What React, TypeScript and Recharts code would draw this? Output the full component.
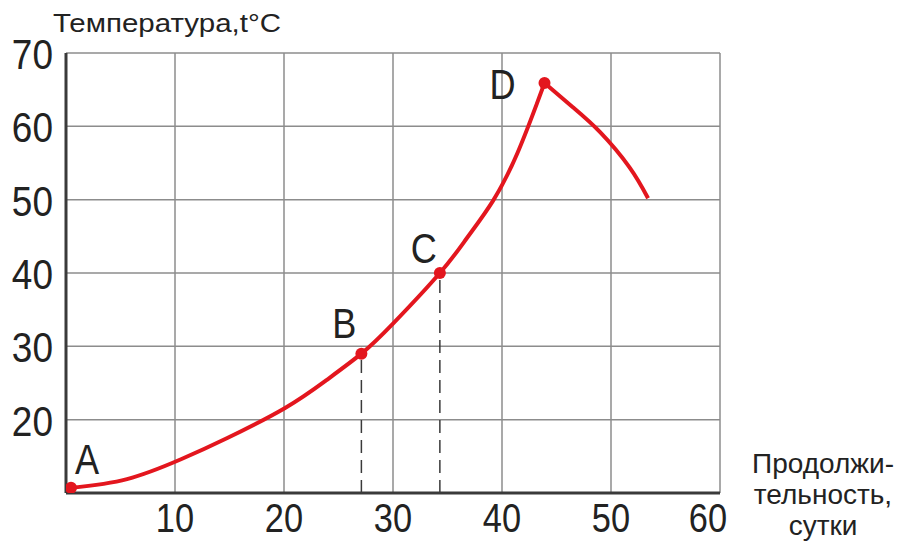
import { ComposedChart, Line, Scatter, XAxis, YAxis, CartesianGrid, ReferenceLine } from 'recharts'

// rising branch A -> D (days, °C)
const riseDays = [0.46, 5.6, 10.55, 14.8, 20.1, 23.9, 27.1, 30.0, 34.3, 36.8, 39.2, 41.4, 43.2, 43.9]
const riseTemp = [10.7, 11.9, 14.6, 17.5, 21.6, 25.4, 29.0, 33.1, 40.0, 44.8, 49.9, 56.3, 63.1, 65.9]

// cooling branch after D
const fallDays = [43.9, 46.5, 49.0, 51.7, 53.4]
const fallTemp = [65.9, 62.6, 59.2, 54.4, 50.2]

const pointNames = ['A', 'B', 'C', 'D']
const pointDays = [0.46, 27.1, 34.3, 43.9]
const pointTemp = [10.7, 29.0, 40.0, 65.9]
const dropLinePoints = ['B', 'C']

const xTicks = [10, 20, 30, 40, 50, 60]
const yTicks = [20, 30, 40, 50, 60, 70]

const yTitle = 'Температура,t°C'
const xTitleLines = ['Продолжи-', 'тельность,', 'сутки']

const RED = '#e3161e'
const INK = '#222'
const FONT = '"Liberation Sans", Arial, sans-serif'

const rise = riseDays.map((x, i) => ({ x, t: riseTemp[i] }))
const fall = fallDays.map((x, i) => ({ x, t: fallTemp[i] }))
const points = pointNames.map((name, i) => ({ name, x: pointDays[i], t: pointTemp[i] }))

// label placement relative to each dot: [dx, baseline dy]
const labelOffset: Record<string, [number, number]> = {
    A: [16, -14],
    B: [-17, -16],
    C: [-16, -10],
    D: [-42, 16]
}

const NarrowText = ({ x, y, anchor, size, children }: any) => (
    <text
        transform={`translate(${x},${y}) scale(0.86,1)`}
        textAnchor={anchor}
        fontSize={size}
        fontFamily={FONT}
        fill={INK}
    >
        {children}
    </text>
)

const XTick = ({ x, y, payload }: any) => (
    <NarrowText x={x + (payload.value === 60 ? -12 : 0)} y={y + 39} anchor="middle" size={40}>
        {payload.value}
    </NarrowText>
)

const YTick = ({ x, y, payload }: any) => (
    <NarrowText x={x - 13} y={y + 16} anchor="end" size={43}>
        {payload.value}
    </NarrowText>
)

const PointMark = ({ cx, cy, payload }: any) => {
    const [dx, dy] = labelOffset[payload.name] || [0, 0]
    return (
        <g>
            <circle cx={cx} cy={cy} r={6} fill={RED} />
            <NarrowText x={cx + dx} y={cy + dy} anchor="middle" size={42}>
                {payload.name}
            </NarrowText>
        </g>
    )
}

export default function App() {
    return (
        <div style={{ position: 'fixed', left: 0, top: 0, width: 899, height: 541, background: '#fff' }}>
            <ComposedChart width={899} height={541} margin={{ top: 53, right: 179, bottom: 0, left: 0 }}>
                <CartesianGrid stroke="#8c8c8c" strokeWidth={1.5} />
                <XAxis
                    dataKey="x"
                    type="number"
                    domain={[0, 60]}
                    ticks={xTicks}
                    height={48}
                    tickSize={0}
                    tickMargin={0}
                    tickLine={false}
                    axisLine={{ stroke: '#3a3a3a', strokeWidth: 3 }}
                    tick={<XTick />}
                    allowDataOverflow
                />
                <YAxis
                    type="number"
                    domain={[10, 70]}
                    ticks={yTicks}
                    width={66}
                    tickSize={0}
                    tickMargin={0}
                    tickLine={false}
                    axisLine={{ stroke: '#3a3a3a', strokeWidth: 3 }}
                    tick={<YTick />}
                    allowDataOverflow
                />
                {points
                    .filter(p => dropLinePoints.includes(p.name))
                    .map(p => (
                        <ReferenceLine
                            key={p.name}
                            segment={[{ x: p.x, y: 10 }, { x: p.x, y: p.t }]}
                            stroke="#3a3a3a"
                            strokeWidth={1.5}
                            strokeDasharray="13 7"
                        />
                    ))}
                <Line data={rise} dataKey="t" type="natural" stroke={RED} strokeWidth={4} dot={false} isAnimationActive={false} />
                <Line data={fall} dataKey="t" type="natural" stroke={RED} strokeWidth={4} dot={false} isAnimationActive={false} />
                <Scatter data={points} dataKey="t" shape={<PointMark />} isAnimationActive={false} />
            </ComposedChart>
            <svg width={899} height={541} style={{ position: 'absolute', left: 0, top: 0, pointerEvents: 'none' }}>
                <text x={53} y={32} fontSize={25} fontFamily={FONT} fill={INK} textLength={228} lengthAdjust="spacingAndGlyphs">
                    {yTitle}
                </text>
                {xTitleLines.map((line, i) => (
                    <text key={line} x={823} y={473 + i * 31} textAnchor="middle" fontSize={28} fontFamily={FONT} fill={INK}>
                        {line}
                    </text>
                ))}
            </svg>
        </div>
    )
}
